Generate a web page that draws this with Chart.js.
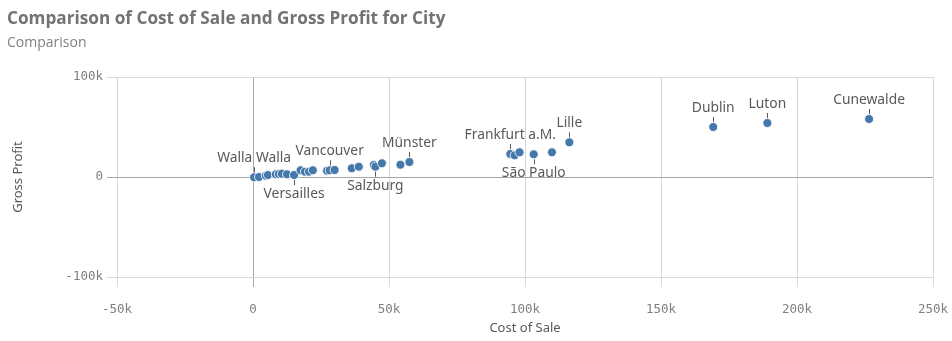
<!DOCTYPE html>
<html>
<head>
<meta charset="utf-8">
<script src="https://cdn.jsdelivr.net/npm/chart.js@4"></script>
<style>
  body { margin: 0; background: #fff; }
  #wrap { position: relative; width: 952px; height: 341px; }
  #title { position: absolute; left: 7px; top: 6px; font: bold 17.2px "Open Sans", sans-serif; color: #737373; white-space: nowrap; }
  #sub { position: absolute; left: 7px; top: 32px; font: 14px "Open Sans", sans-serif; color: #808080; }
  canvas { position: absolute; left: 0; top: 0; }
</style>
</head>
<body>
<div id="wrap">
  <canvas id="scatter" width="952" height="341"></canvas>
  <div id="title">Comparison of Cost of Sale and Gross Profit for City</div>
  <div id="sub">Comparison</div>
</div>
<script>
// values in thousands
var cities = ['Walla Walla','','','','','','','','Versailles','','','','','','Vancouver','',
    '','','','Salzburg','','','Münster',
    'Frankfurt a.M.','','','São Paulo','','Lille','Dublin','Luton','Cunewalde'];
var costOfSale = [0.4, 2.2, 4.7, 5.5, 8.4, 9.5, 10.6, 12.5, 15.1, 17.5, 19.1, 20.6, 22, 27.2, 28.2, 30,
    36.3, 38.9, 44.4, 45, 47.4, 54.2, 57.5,
    94.6, 96.2, 98, 103.2, 109.9, 116.3, 169.2, 189.1, 226.5];
var grossProfit = [-0.3, 0, 1.3, 2, 2.7, 3, 3.3, 2.7, 2, 6.7, 5.3, 5.3, 6.7, 6.3, 6.7, 7,
    8.7, 10.3, 12, 10.3, 13.7, 12.3, 15,
    23, 21.7, 24.7, 22.7, 24.7, 34.7, 50, 54, 58];
var labelBelow = ['Versailles','Salzburg','São Paulo'];
var xTicks = [-50, 0, 50, 100, 150, 200, 250];
var yTicks = [-100, 0, 100];

var points = [];
for (var i = 0; i < costOfSale.length; i++) {
    points.push({x: costOfSale[i], y: grossProfit[i]});
}

function fmt(v) { return v === 0 ? '0' : v + 'k'; }
function gridColor(ctx) { return ctx.tick && ctx.tick.value === 0 ? '#a6a6a6' : '#d9d9d9'; }

var cityLabels = {
    id: 'cityLabels',
    afterDatasetsDraw: function(chart) {
        var c = chart.ctx;
        var meta = chart.getDatasetMeta(0);
        c.save();
        c.font = '13.8px "Noto Sans", sans-serif';
        c.fillStyle = '#595959';
        c.strokeStyle = '#595959';
        c.lineWidth = 1;
        c.textAlign = 'center';
        c.textBaseline = 'middle';
        for (var i = 0; i < cities.length; i++) {
            if (!cities[i]) continue;
            var p = meta.data[i];
            var dir = labelBelow.indexOf(cities[i]) >= 0 ? 1 : -1;
            var px = Math.round(p.x) + 0.5;
            c.beginPath();
            c.moveTo(px, p.y + dir * 5);
            c.lineTo(px, p.y + dir * 10);
            c.stroke();
            c.fillText(cities[i], p.x, p.y + dir * 19);
        }
        c.restore();
    }
};

new Chart(document.getElementById('scatter').getContext('2d'), {
    type: 'scatter',
    data: {
        datasets: [{
            data: points,
            backgroundColor: '#4477aa',
            borderColor: 'rgba(255,255,255,0.85)',
            borderWidth: 1,
            pointRadius: 4.5,
            pointHoverRadius: 4.5
        }]
    },
    options: {
        responsive: false,
        animation: false,
        layout: { padding: { top: 77, right: 19, bottom: 0, left: 0 } },
        plugins: { legend: { display: false }, tooltip: { enabled: false } },
        scales: {
            x: {
                type: 'linear', min: -50, max: 250,
                afterBuildTicks: function(s) { s.ticks = xTicks.map(function(v) { return {value: v}; }); },
                afterFit: function(s) { s.height = 64; s.paddingLeft = 0; s.paddingRight = 0; },
                grid: { color: gridColor, tickLength: 10, drawTicks: true },
                border: { display: false },
                ticks: { padding: 15, maxRotation: 0, color: '#808080', font: { family: 'DejaVu Sans Mono', size: 12.5 }, callback: fmt },
                title: { display: true, text: 'Cost of Sale', color: '#595959', padding: { top: 0, bottom: 5 },
                    font: { family: '"Noto Sans", sans-serif', size: 13 } }
            },
            y: {
                type: 'linear', min: -100, max: 100,
                afterBuildTicks: function(s) { s.ticks = yTicks.map(function(v) { return {value: v}; }); },
                afterFit: function(s) { s.width = 117; s.paddingTop = 0; s.paddingBottom = 0; },
                grid: { color: gridColor, tickLength: 10, drawTicks: true },
                border: { display: false },
                ticks: { padding: 4, color: '#808080', font: { family: 'DejaVu Sans Mono', size: 12.5 }, callback: fmt },
                title: { display: true, text: 'Gross Profit', color: '#595959', padding: { top: 10, bottom: 0 },
                    font: { family: '"Noto Sans", sans-serif', size: 13 } }
            }
        }
    },
    plugins: [cityLabels]
});
</script>
</body>
</html>
